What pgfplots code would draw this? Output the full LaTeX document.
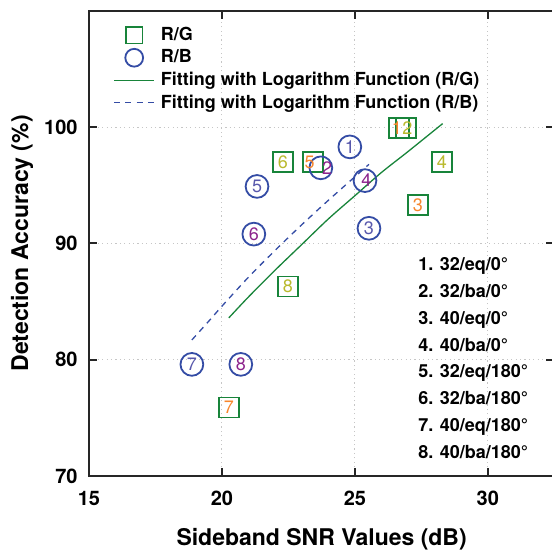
\documentclass[border=0pt]{standalone}
\usepackage{pgfplots}
\pgfplotsset{compat=1.18}
\usepackage{pgfplotstable}
\usepackage{fontspec}
\setmainfont{TeX Gyre Heros}
\definecolor{mgreen}{RGB}{24,132,58}
\definecolor{morange}{RGB}{247,134,45}
\definecolor{molive}{RGB}{185,185,45}
\definecolor{mblue}{RGB}{52,76,165}
\definecolor{mbluelab}{RGB}{88,88,172}
\definecolor{mpurple}{RGB}{140,35,140}

% x y = marker centre, lx = label x position
\pgfplotstableread{
x y lx lab
26.65 99.9 26.58 1
27.37 93.3 27.37 3
23.42 97.0 23.30 5
20.26 75.9 20.26 7
}\rgA
\pgfplotstableread{
x y lx lab
26.92 99.9 26.97 2
28.27 97.0 28.27 4
22.29 97.0 22.29 6
22.48 86.3 22.48 8
}\rgB
\pgfplotstableread{
x y lx lab
24.81 98.3 24.81 1
25.53 91.3 25.53 3
21.32 94.9 21.32 5
18.87 79.6 18.87 7
}\rbA
\pgfplotstableread{
x y lx lab
23.72 96.5 23.96 2
25.38 95.4 25.43 4
21.20 90.8 21.20 6
20.71 79.6 20.71 8
}\rbB
\pgfplotstableread{
x y
20.26 83.6
21 85.4
22 87.7
23 89.9
24 92.1
25 94.1
26 96.1
27 97.9
28.3 100.3
}\fitRG
\pgfplotstableread{
x y
18.87 81.7
19.5 83.3
20 84.6
21 87.1
22 89.4
23 91.6
24 93.7
25.53 96.8
}\fitRB

\pgfplotsset{
  numlab/.style={only marks, mark=none, draw=none, point meta=explicit symbolic, forget plot,
    nodes near coords,
    every node near coord/.append style={anchor=center, text=#1, inner sep=0pt,
      font=\fontsize{9}{10}\selectfont}},
  sqmark/.style={only marks, forget plot, mark=square, mark size=5pt, draw=mgreen, line width=0.9pt},
  cimark/.style={only marks, forget plot, mark=o, mark size=5.7pt, draw=mblue, line width=0.9pt},
  legmark/.style={legend image code/.code={\draw[##1] plot coordinates {(10pt,0pt)};}},
  legline/.style={legend image code/.code={\draw[##1] (0pt,0pt) -- (20pt,0pt);}},
}

\begin{document}
\begin{tikzpicture}
\begin{axis}[
  scale only axis, width=232.75pt, height=232.7pt,
  xmin=15, xmax=32.5, ymin=70, ymax=110,
  xtick={15,20,25,30}, ytick={70,80,90,100},
  tick align=inside, major tick length=4pt,
  tick style={line width=1pt, black!85},
  axis line style={line width=1pt, black!85},
  grid=major, grid style={line width=0.5pt, gray!45, dash pattern=on 0.6pt off 1.6pt},
  /pgf/number format/assume math mode=true,
  ticklabel style={font=\bfseries\fontsize{10}{12}\selectfont},
  yticklabel style={xshift=-2.2pt},
  xticklabel style={anchor=base, yshift=-14.5pt},
  xlabel={Sideband SNR Values (dB)}, ylabel={Detection Accuracy (\%)},
  every axis x label/.style={at={(rel axis cs:0.5,0)}, yshift=-34.5pt, anchor=base,
    font=\bfseries\fontsize{11.5}{13}\selectfont},
  every axis y label/.style={at={(rel axis cs:0,0.5)}, xshift=-33.5pt, rotate=90, anchor=center,
    font=\bfseries\fontsize{11.5}{13}\selectfont},
  legend cell align=left,
  legend style={draw=none, fill=none, inner sep=0pt, at={(0.052,0.97)}, anchor=north west,
    font=\bfseries\fontsize{9}{11}\selectfont, row sep=1.1pt, column sep=2pt,
    nodes={inner sep=1pt}},
]
\coordinate (bl) at (rel axis cs:0,0);
\coordinate (tr) at (rel axis cs:1,1);

\addlegendimage{legmark, only marks, mark=square, mark size=4.1pt, draw=mgreen, line width=0.9pt}
\addlegendentry{R/G}
\addlegendimage{legmark, only marks, mark=o, mark size=4.45pt, draw=mblue, line width=0.9pt}
\addlegendentry{R/B}
\addlegendimage{legline, mgreen, line width=0.65pt}
\addlegendentry{Fitting with Logarithm Function (R/G)}
\addlegendimage{legline, mblue, line width=0.65pt, dash pattern=on 3pt off 2.6pt}
\addlegendentry{Fitting with Logarithm Function (R/B)}

\addplot[mgreen, line width=0.65pt, smooth, forget plot] table {\fitRG};
\addplot[mblue, line width=0.65pt, dash pattern=on 3pt off 2.6pt, smooth, forget plot] table {\fitRB};

\addplot[sqmark] table[x=x, y=y] {\rgA};
\addplot[sqmark] table[x=x, y=y] {\rgB};
\addplot[cimark] table[x=x, y=y] {\rbA};
\addplot[cimark] table[x=x, y=y] {\rbB};

\addplot[numlab=morange] table[x=lx, y=y, meta=lab] {\rgA};
\addplot[numlab=molive] table[x=lx, y=y, meta=lab] {\rgB};
\addplot[numlab=mbluelab] table[x=lx, y=y, meta=lab] {\rbA};
\addplot[numlab=mpurple] table[x=lx, y=y, meta=lab] {\rbB};

\node[anchor=north west, align=left, inner sep=0pt,
  font=\bfseries\fontsize{9}{13.4}\selectfont] at (axis cs:27.37,88.8)
  {1. 32/eq/0°\\2. 32/ba/0°\\3. 40/eq/0°\\4. 40/ba/0°\\5. 32/eq/180°\\6. 32/ba/180°\\7. 40/eq/180°\\8. 40/ba/180°};
\end{axis}
\pgfresetboundingbox
\path[use as bounding box] ([xshift=-44.5pt,yshift=-38pt]bl) rectangle ([xshift=-1.25pt,yshift=5.4pt]tr);
\end{tikzpicture}
\end{document}
